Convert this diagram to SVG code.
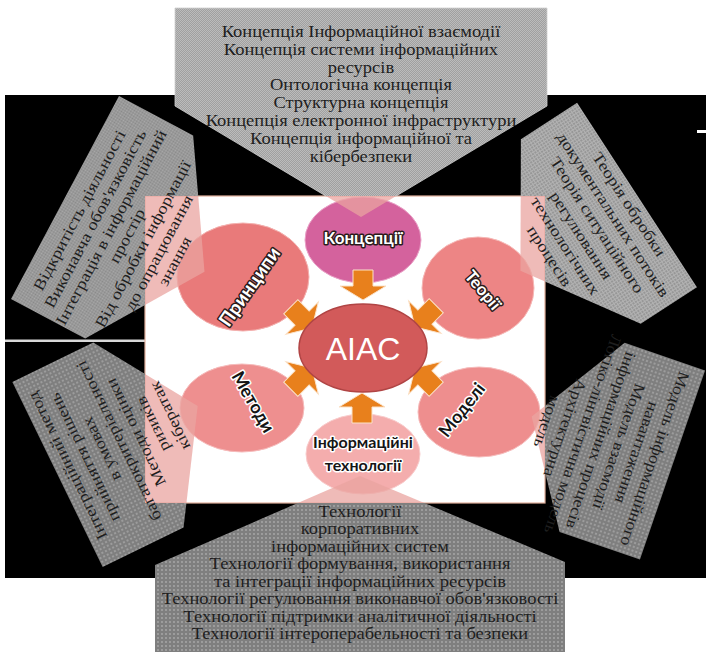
<svg xmlns="http://www.w3.org/2000/svg" width="706" height="652" viewBox="0 0 706 652">
<defs>
<style>
.t{font-family:'Liberation Serif','Times New Roman',serif;font-size:15.8px;fill:#1e1e1e;text-anchor:middle}
.lbl{font-family:Lato,'Liberation Sans',Arial,sans-serif;font-weight:700;text-anchor:middle;paint-order:stroke;stroke-linejoin:round}
.lw{fill:#fff;stroke:#2b1b1b;stroke-width:3}
.lb{fill:#151515;stroke:#fff;stroke-width:3}
.ov{fill:#eaa4a0;fill-opacity:.75}
.arr{fill:#e8801c;stroke:#fbe2c8;stroke-width:1}
</style>
<pattern id="pTop" width="2" height="2" patternUnits="userSpaceOnUse"><rect width="2" height="2" fill="#a0a0a0"/><rect width="1" height="1" fill="#bcbcbc"/><rect x="1" y="1" width="1" height="1" fill="#bcbcbc"/></pattern>
<pattern id="pChk" width="2" height="2" patternUnits="userSpaceOnUse"><rect width="2" height="2" fill="#888"/><rect width="1" height="1" fill="#aaa"/><rect x="1" y="1" width="1" height="1" fill="#aaa"/></pattern>
<pattern id="pGrid" width="3" height="3" patternUnits="userSpaceOnUse"><rect width="3" height="3" fill="#979797"/><path d="M0,0.5H3M0.5,0V3" stroke="#b2b2b2" stroke-width="1"/></pattern>
<pattern id="pDot" width="4" height="4" patternUnits="userSpaceOnUse"><rect width="4" height="4" fill="#7f7f7f"/><circle cx="2" cy="2" r="0.9" fill="#aaa"/></pattern>
<clipPath id="in"><rect x="145" y="196" width="400" height="307"/></clipPath>
<clipPath id="out"><path clip-rule="evenodd" d="M0,0H706V652H0Z M145,196H545V503H145Z"/></clipPath>
<path id="arrow" d="M-10,-30 L10,-30 L10,-14 L23,-14 L0,0 L-23,-14 L-10,-14 Z"/>
<polygon id="shTop" points="175,8 547,8 547,106 361,217 175,106"/>
<polygon id="shBot" points="155,565 360,476 565,562 565,652 155,652"/>
<polygon id="shTL" points="-115,0 115,0 115,84 0,158 -115,84"/>
<polygon id="shTR" points="-110,0 110,0 110,67 0,139 -110,67"/>
<polygon id="shBL" points="-103,0 103,0 103,90 0,156 -103,90"/>
<polygon id="shBR" points="-100,0 100,0 100,85 0,149 -100,85"/>
</defs>

<rect width="706" height="652" fill="#fff"/>
<g id="background">
<rect x="5" y="95" width="701" height="483" fill="#000"/>
<rect x="5" y="339.5" width="141" height="2.5" fill="#d8d8d8"/>
<rect x="697" y="130" width="9" height="3" fill="#fff"/>
</g>

<g id="hub">
<rect x="145" y="196" width="400" height="307" fill="#fff" stroke="#e2b09c" stroke-width="1.2"/>
<g id="n-koncepcii"><ellipse cx="363" cy="240" rx="58" ry="43" fill="#d4629d" stroke="#eaa2c8" stroke-width="1"/></g>
<g id="n-pryntsypy"><ellipse cx="243" cy="277" rx="66" ry="54" fill="#e97a7a" stroke="#f4b2b0" stroke-width="1"/></g>
<g id="n-teorii"><ellipse cx="478" cy="288" rx="56" ry="51" fill="#ed8585" stroke="#f6b8b6" stroke-width="1"/></g>
<g id="n-metody"><ellipse cx="242" cy="408" rx="62" ry="44" fill="#ee8f8f" stroke="#f6bcbc" stroke-width="1"/></g>
<g id="n-modeli"><ellipse cx="479" cy="412" rx="61" ry="45" fill="#ee8e8e" stroke="#f6bcbc" stroke-width="1"/></g>
<g id="n-it"><ellipse cx="363" cy="454" rx="57" ry="40" fill="#f4adad" stroke="#f9cccc" stroke-width="1"/></g>
<g id="connectors">
<use href="#arrow" class="arr" transform="translate(363,300)"/>
<use href="#arrow" class="arr" transform="translate(362,393) rotate(180)"/>
<use href="#arrow" class="arr" transform="translate(312,328) rotate(-45)"/>
<use href="#arrow" class="arr" transform="translate(415,327) rotate(45)"/>
<use href="#arrow" class="arr" transform="translate(312,368) rotate(-135)"/>
<use href="#arrow" class="arr" transform="translate(415,368) rotate(135)"/>
</g>
<g id="n-aiac"><ellipse cx="363" cy="348" rx="64" ry="44" fill="#d25a5a" stroke="#b04444" stroke-width="1.5"/>
<text x="363" y="360" font-family="'Liberation Sans',Arial,sans-serif" font-size="32" fill="#fff" text-anchor="middle">AIAC</text></g>
</g>

<g id="n-top">
<g clip-path="url(#out)"><use href="#shTop" fill="url(#pTop)" stroke="#cfcfcf" stroke-width="0.8"/></g>
<g clip-path="url(#in)"><use href="#shTop" class="ov"/></g>
<text class="t" transform="translate(-61.4,0) scale(1.17,1)"><tspan x="361" y="37">Концепція Інформаційної взаємодії</tspan><tspan x="361" y="54.8">Концепція системи інформаційних</tspan><tspan x="361" y="72.6">ресурсів</tspan><tspan x="361" y="90.4">Онтологічна концепція</tspan><tspan x="361" y="108.2">Структурна концепція</tspan><tspan x="361" y="126">Концепція електронної інфраструктури</tspan><tspan x="361" y="143.8">Концепція інформаційної та</tspan><tspan x="361" y="161.6">кібербезпеки</tspan></text>
</g>

<g id="n-tl">
<g clip-path="url(#out)"><use href="#shTL" transform="translate(65,197.5) rotate(-62)" fill="url(#pChk)"/></g>
<g clip-path="url(#in)"><use href="#shTL" transform="translate(65,197.5) rotate(-62)" class="ov"/></g>
<text class="t" transform="translate(65,197.5) rotate(-62) scale(1.17,1)"><tspan x="-4" y="24">Відкритість діяльності</tspan><tspan x="-4" y="42">Виконавча обов'язковість</tspan><tspan x="-4" y="60">Інтеграція в інформаційний</tspan><tspan x="-4" y="78">простір</tspan><tspan x="-4" y="96">Від обробки інформації</tspan><tspan x="-4" y="114">до опрацювання</tspan><tspan x="-4" y="132">знання</tspan></text>
</g>

<g id="n-tr">
<g clip-path="url(#out)"><use href="#shTR" transform="translate(637,195) rotate(57)" fill="url(#pGrid)"/></g>
<g clip-path="url(#in)"><use href="#shTR" transform="translate(637,195) rotate(57)" class="ov"/></g>
<text class="t" transform="translate(637,195) rotate(57) scale(1.17,1)"><tspan x="3" y="17">Теорія обробки</tspan><tspan x="3" y="36">документальних потоків</tspan><tspan x="3" y="55">Теорія ситуаційного</tspan><tspan x="3" y="74">регулювання</tspan><tspan x="3" y="93">технологічних</tspan><tspan x="3" y="112">процесів</tspan></text>
</g>

<g id="n-bl">
<g clip-path="url(#out)"><use href="#shBL" transform="translate(57.5,474.5) rotate(-116)" fill="url(#pDot)"/></g>
<g clip-path="url(#in)"><use href="#shBL" transform="translate(57.5,474.5) rotate(-116)" class="ov"/></g>
<text class="t" transform="translate(57.5,474.5) rotate(-116) scale(1.17,1)"><tspan x="3" y="18">Інтеграційний метод</tspan><tspan x="3" y="37">прийняття рішень</tspan><tspan x="3" y="56">в умовах</tspan><tspan x="3" y="75">багатокритеріальності</tspan><tspan x="3" y="94">Методи оцінки</tspan><tspan x="3" y="113">ризиків</tspan><tspan x="3" y="132">кібератак</tspan></text>
</g>

<g id="n-br">
<g clip-path="url(#out)"><use href="#shBR" transform="translate(672.5,465) rotate(109)" fill="url(#pDot)"/></g>
<g clip-path="url(#in)"><use href="#shBR" transform="translate(672.5,465) rotate(109)" class="ov"/></g>
<text class="t" transform="translate(672.5,465) rotate(109) scale(1.13,1)"><tspan x="0" y="24">Модель інформаційного</tspan><tspan x="0" y="43">навантаження</tspan><tspan x="0" y="62">Модель взаємодії</tspan><tspan x="0" y="81">інформаційних процесів</tspan><tspan x="0" y="100">Логіко-лінгвістична модель</tspan><tspan x="0" y="119">Архітектурна</tspan><tspan x="0" y="138">модель</tspan></text>
</g>

<g id="n-bottom">
<g clip-path="url(#out)"><use href="#shBot" fill="url(#pDot)"/></g>
<g clip-path="url(#in)"><use href="#shBot" class="ov"/></g>
<text class="t" transform="translate(-61.2,0) scale(1.17,1)"><tspan x="360" y="517">Технології</tspan><tspan x="360" y="534.5">корпоративних</tspan><tspan x="360" y="552">інформаційних систем</tspan><tspan x="360" y="569.5">Технології формування,  використання</tspan><tspan x="360" y="587">та інтеграції інформаційних ресурсів</tspan><tspan x="360" y="604.5">Технології регулювання виконавчої обов'язковості</tspan><tspan x="360" y="622">Технології підтримки аналітичної діяльності</tspan><tspan x="360" y="639.5">Технології інтероперабельності та безпеки</tspan></text>
</g>

<g id="labels">
<text class="lbl lw" x="363" y="244" font-size="17">Концепції</text>
<text class="lbl lw" font-size="19" transform="translate(250,287) rotate(-55)" y="6">Принципи</text>
<text class="lbl lw" font-size="17" transform="translate(483,290) rotate(50)" y="6">Теорії</text>
<text class="lbl lb" font-size="18" transform="translate(253,402) rotate(60)" y="6">Методи</text>
<text class="lbl lb" font-size="18" transform="translate(462,410) rotate(-52)" y="6">Моделі</text>
<text class="lbl lb" font-size="16" x="363" y="448">Інформаційні</text>
<text class="lbl lb" font-size="16" x="363" y="471">технології</text>
</g>
</svg>
